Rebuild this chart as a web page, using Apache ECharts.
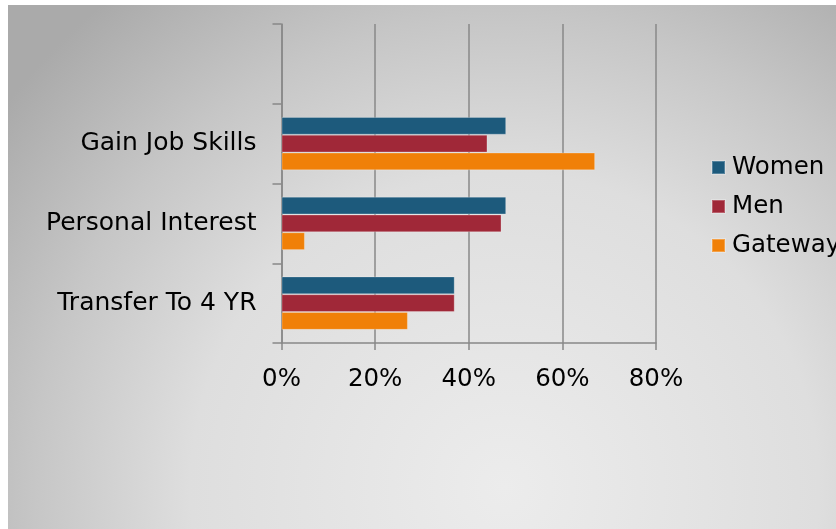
<!DOCTYPE html>
<html lang="en">
<head>
<meta charset="UTF-8" />
<title>Reasons</title>
<style>
  * { margin: 0; padding: 0; box-sizing: border-box; }
  body { background: #fff; }
  #chart { width: 836px; height: 529px; }
</style>
</head>
<body>
<div id="chart"></div>
<script src="https://cdn.jsdelivr.net/npm/echarts@6/dist/echarts.min.js"></script>
<script>
  // categories, top to bottom (first slot is empty in the original)
  const categories = ['', 'Gain Job Skills', 'Personal Interest', 'Transfer To 4 YR'];
  const women = [null, 48, 48, 37];
  const men = [null, 44, 47, 37];
  const gateway = [null, 67, 5, 27];
  const xTicks = [0, 20, 40, 60, 80];

  const font = 'DejaVu Sans';
  const chart = echarts.init(document.getElementById('chart'));

  function bar(name, data, color) {
    return {
      name: name,
      type: 'bar',
      data: data,
      barGap: '0%',
      barCategoryGap: '33%',
      itemStyle: { color: color, borderColor: 'rgba(255,255,255,0.25)', borderWidth: 1 },
      emphasis: { disabled: true }
    };
  }

  chart.setOption({
    animation: false,
    graphic: [{
      type: 'rect',
      left: 8, top: 5, z: -10,
      shape: { width: 828, height: 524 },
      style: {
        fill: {
          type: 'radial', x: 0.6, y: 0.92, r: 1.2,
          colorStops: [
            { offset: 0, color: '#ececec' },
            { offset: 0.5, color: '#dedede' },
            { offset: 0.75, color: '#c6c6c6' },
            { offset: 1, color: '#aaaaaa' }
          ]
        }
      }
    }],
    grid: { left: 281.5, right: 180, top: 24, bottom: 186 },
    legend: {
      orient: 'vertical',
      left: 711, top: 155, padding: 0,
      itemWidth: 13, itemHeight: 13, itemGap: 14,
      icon: 'rect',
      textStyle: { fontFamily: font, fontSize: 24.5, color: '#000', lineHeight: 25, padding: [0, 0, 0, 2] },
      data: ['Women', 'Men', 'Gateway']
    },
    xAxis: {
      type: 'value',
      min: xTicks[0], max: xTicks[xTicks.length - 1], interval: 20,
      axisLine: { show: true, lineStyle: { color: '#888', width: 1.5 } },
      axisTick: { show: true, length: 7, lineStyle: { color: '#888', width: 1.5 } },
      splitLine: { show: true, lineStyle: { color: '#888', width: 1.5 } },
      axisLabel: { formatter: '{value}%', fontFamily: font, fontSize: 24.5, color: '#000', margin: 24 }
    },
    yAxis: {
      type: 'category',
      inverse: true,
      data: categories,
      axisLine: { show: true, lineStyle: { color: '#888', width: 1.5 } },
      axisTick: { show: true, length: 9, lineStyle: { color: '#888', width: 1.5 } },
      axisLabel: { fontFamily: font, fontSize: 25, color: '#000', margin: 25, padding: [4, 0, 0, 0] }
    },
    series: [
      bar('Women', women, '#1d5a7c'),
      bar('Men', men, '#a02838'),
      bar('Gateway', gateway, '#f08008')
    ]
  });
</script>
</body>
</html>
